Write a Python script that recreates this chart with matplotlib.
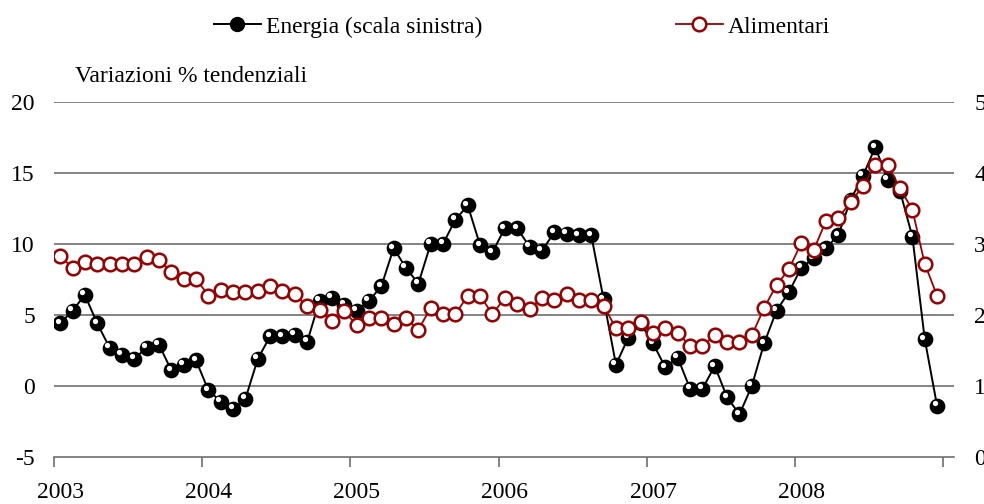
import numpy as np
import matplotlib
matplotlib.use("Agg")
import matplotlib.pyplot as plt
from matplotlib.transforms import offset_copy
from matplotlib.lines import Line2D

plt.rcParams['font.family'] = ['Liberation Serif', 'DejaVu Serif']

years = ["2003", "2004", "2005", "2006", "2007", "2008"]

# Energia (left scale, % yoy), monthly Jan 2003 - Dec 2008
energia = [
    4.4, 5.3, 6.4, 4.4, 2.7, 2.2, 1.9, 2.7, 2.9, 1.1, 1.5, 1.8,
    -0.3, -1.1, -1.6, -0.9, 1.9, 3.5, 3.5, 3.6, 3.1, 6.0, 6.2, 5.7,
    5.3, 6.0, 7.0, 9.7, 8.3, 7.2, 10.0, 10.0, 11.7, 12.7, 9.9, 9.4,
    11.1, 11.1, 9.8, 9.5, 10.8, 10.7, 10.6, 10.6, 6.1, 1.5, 3.4, 4.4,
    3.0, 1.3, 2.0, -0.2, -0.2, 1.4, -0.8, -2.0, 0.0, 3.0, 5.3, 6.6,
    8.3, 9.0, 9.7, 10.6, 13.1, 14.8, 16.8, 14.5, 13.7, 10.5, 3.3, -1.4,
]

# Alimentari (right scale, % yoy)
alimentari = [
    2.83, 2.66, 2.74, 2.72, 2.72, 2.72, 2.72, 2.81, 2.77, 2.61, 2.51, 2.51,
    2.27, 2.35, 2.32, 2.32, 2.33, 2.41, 2.33, 2.29, 2.12, 2.07, 1.91, 2.05,
    1.86, 1.95, 1.95, 1.87, 1.96, 1.79, 2.10, 2.01, 2.01, 2.27, 2.27, 2.01,
    2.24, 2.16, 2.08, 2.24, 2.21, 2.30, 2.21, 2.21, 2.13, 1.81, 1.81, 1.90,
    1.75, 1.81, 1.75, 1.56, 1.56, 1.71, 1.62, 1.62, 1.71, 2.10, 2.42, 2.64,
    3.01, 2.91, 3.32, 3.36, 3.59, 3.81, 4.11, 4.11, 3.78, 3.48, 2.72, 2.27,
]

left_ticks = [-5, 0, 5, 10, 15, 20]
right_ticks = [0, 1, 2, 3, 4, 5]

RED = '#9a0000'
GRID = '#6e6e6e'
FS = 17

fig = plt.figure(figsize=(9.84, 5.04), dpi=100)
ax = fig.add_axes([54/984, 1-457/504, (954-54)/984, (457-101.7)/504])
ax2 = ax.twinx()

x = np.arange(len(energia)) + 0.5

ax.plot(x, energia, color='black', lw=1.4, marker='o', ms=10.3,
        mfc='black', mec='black', zorder=3)
hl = offset_copy(ax.transData, fig=fig, x=-2.5, y=2.5, units='dots')
ax.plot(x, energia, ls='none', marker='o', ms=3.8, mfc='white',
        mec='none', transform=hl, zorder=4)

ax2.plot(x, alimentari, color=RED, lw=1.3, marker='o', ms=9.8,
         mfc='white', mec=RED, mew=1.8, zorder=3)

ax.set_ylim(-5, 20)
ax2.set_ylim(0, 5)
ax.set_xlim(0, 72.87)

ax.set_yticks(left_ticks)
ax.set_yticklabels([str(v) for v in left_ticks], fontsize=FS)
ax2.set_yticks(right_ticks)
ax2.set_yticklabels([str(v) for v in right_ticks], fontsize=FS)
ax.tick_params(axis='y', length=0, pad=13.7)
ax2.tick_params(axis='y', length=0, pad=14.5)

for v in left_ticks[1:]:
    ax.axhline(v, color=GRID, lw=1.2, zorder=1)

ax.set_xticks(np.arange(0, 73, 12))
ax.set_xticklabels([])
ax.set_xticks(np.arange(0, 72, 12) + 0.5, minor=True)
ax.set_xticklabels(years, minor=True, fontsize=FS)
ax.tick_params(axis='x', which='major', length=7, width=1.2, color=GRID, direction='out')
ax.tick_params(axis='x', which='minor', length=0, pad=18)

for a in (ax, ax2):
    for s in ('top', 'left', 'right'):
        a.spines[s].set_visible(False)
ax.spines['bottom'].set_color(GRID)
ax.spines['bottom'].set_linewidth(1.2)
ax2.spines['bottom'].set_visible(False)

fig.text(75/984, 1-76/504, "Variazioni % tendenziali", fontsize=FS,
         ha='left', va='center')

h1 = Line2D([], [], color='black', lw=1.4, marker='o', ms=10, mfc='black', mec='black')
h2 = Line2D([], [], color=RED, lw=1.3, marker='o', ms=9.8, mfc='white', mec=RED, mew=1.8)
fig.legend([h1, h2], ["Energia (scala sinistra)", "Alimentari"], loc='center',
           bbox_to_anchor=(522/984, 1-27/504), ncol=2, frameon=False, fontsize=FS,
           handlelength=2.0, handletextpad=0.21, columnspacing=8.2)

fig.savefig("out.png", dpi=100)
